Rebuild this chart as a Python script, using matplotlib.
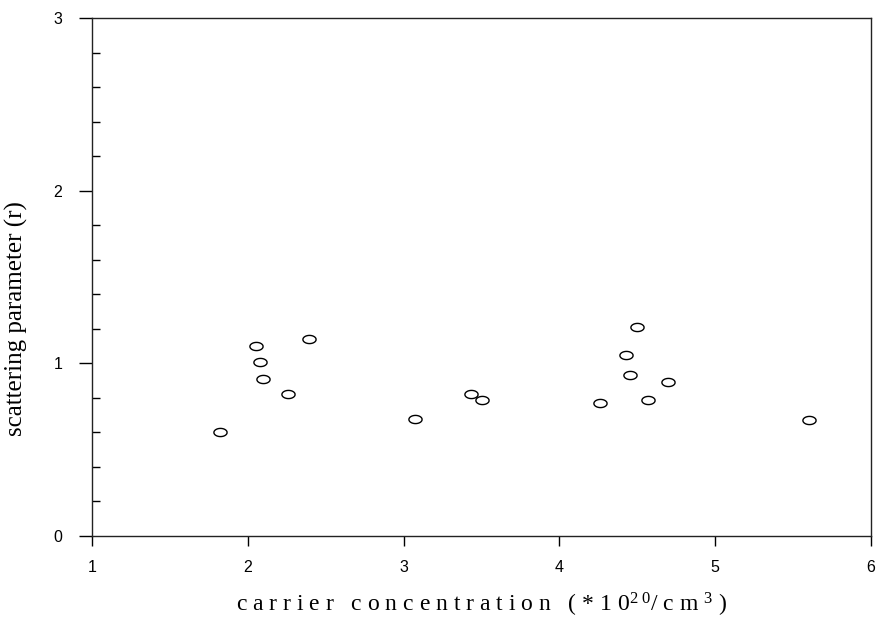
import numpy as np
import matplotlib
matplotlib.use('Agg')
import matplotlib.pyplot as plt
from matplotlib.path import Path
from matplotlib.ticker import MultipleLocator

# carrier concentration (*10^20/cm^3) and scattering parameter r
carrierConc = [1.82, 2.05, 2.08, 2.10, 2.26, 2.39, 3.07, 3.43, 3.50,
               4.26, 4.43, 4.45, 4.50, 4.57, 4.70, 5.60]
scatterParam = [0.60, 1.10, 1.01, 0.91, 0.82, 1.14, 0.68, 0.82, 0.79,
                0.77, 1.05, 0.93, 1.21, 0.79, 0.89, 0.67]

xTicks = [1, 2, 3, 4, 5, 6]
yTicks = [0, 1, 2, 3]

plt.rcParams['mathtext.fontset'] = 'custom'
plt.rcParams['mathtext.rm'] = 'Liberation Serif'
plt.rcParams['mathtext.it'] = 'Liberation Serif'
plt.rcParams['mathtext.default'] = 'rm'

# flattened open circle, like the original plot symbol
theta = np.linspace(0, 2 * np.pi, 60)
ellipse = Path(np.column_stack([np.cos(theta), 0.62 * np.sin(theta)]))

fig = plt.figure(figsize=(8.82, 6.35), dpi=100)
ax = fig.add_axes([92 / 882, 1 - 536 / 635, 779 / 882, 518 / 635])

ax.plot(carrierConc, scatterParam, linestyle='none', marker=ellipse,
        markersize=9.5, markerfacecolor='none', markeredgecolor='black',
        markeredgewidth=1.0)

ax.set_xlim(1, 6)
ax.set_ylim(0, 3)
ax.set_xticks(xTicks)
ax.set_yticks(yTicks)
ax.yaxis.set_minor_locator(MultipleLocator(0.2))

for spine in ax.spines.values():
    spine.set_linewidth(1.0)
    spine.set_color('#222222')

ax.tick_params(axis='x', which='major', direction='out', length=7, width=1,
               pad=10, labelsize=11.5)
ax.tick_params(axis='y', which='major', direction='out', length=9.5, width=1,
               pad=12, labelsize=11.5)
ax.tick_params(axis='y', which='minor', direction='in', length=6, width=1)
for lbl in ax.get_xticklabels() + ax.get_yticklabels():
    lbl.set_fontfamily('Liberation Sans')

ax.set_xlabel('c a r r i e r   c o n c e n t r a t i o n   ( * 1 0$^{2\\ 0}$/ c m $^{3}$ )',
              fontfamily='Liberation Serif', fontsize=17, labelpad=12)
ax.set_ylabel('scattering parameter (r)', fontfamily='Liberation Serif', fontsize=18)
ax.yaxis.set_label_coords(-0.082, 0.42)

fig.savefig('out.png', dpi=100)
